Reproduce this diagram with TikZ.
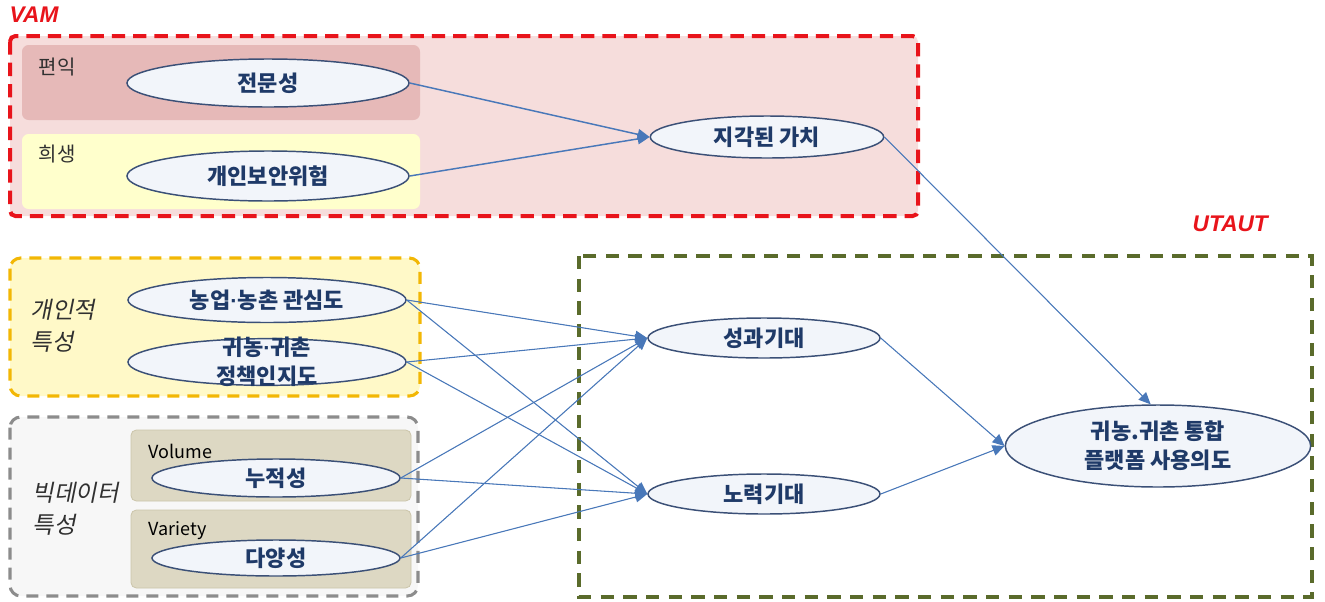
\documentclass[tikz,border=0pt]{standalone}
\usepackage{fontspec}
\setmainfont{Noto Sans CJK KR}[AutoFakeSlant=0.2]
\newfontfamily\ttlfont{Liberation Sans}
\usetikzlibrary{shapes.geometric,arrows.meta}
\definecolor{redD}{HTML}{E8141B}
\definecolor{pinkF}{HTML}{F6DDDC}
\definecolor{benF}{HTML}{E6B9B8}
\definecolor{sacF}{HTML}{FFFFCC}
\definecolor{yelF}{HTML}{FFF9C8}
\definecolor{yelD}{HTML}{F2B705}
\definecolor{grayF}{HTML}{F7F7F7}
\definecolor{grayD}{HTML}{8C8C8C}
\definecolor{tanF}{HTML}{DDD8C3}
\definecolor{tanD}{HTML}{CBC5AA}
\definecolor{oliveD}{HTML}{5A6B2B}
\definecolor{ellF}{HTML}{F2F5FA}
\definecolor{ellB}{HTML}{3B5077}
\definecolor{ellT}{HTML}{1F3A68}
\definecolor{arrC}{HTML}{4978B9}
\definecolor{lblT}{HTML}{303030}
\newcommand\mdot{{\ttlfont\bfseries ·}}
\begin{document}
\begin{tikzpicture}[x=0.75pt,y=-0.75pt,
  ell/.style={ellipse, draw=ellB, fill=ellF, line width=1.1pt, inner sep=0pt},
  etxt/.style={font=\bfseries\fontsize{16.5}{21.5}\selectfont, text=ellT, align=center, inner sep=0pt},
  arr/.style={-{Triangle[length=9pt,width=8pt]}, draw=arrC, fill=arrC, line width=0.8pt},
  arrT/.style={arr, line width=1.1pt},
  grp/.style={font=\itshape\fontsize{17.5}{24}\selectfont, text=lblT, align=left, anchor=west},
  sub/.style={font=\fontsize{15}{17}\selectfont, text=lblT, anchor=west},
  vsub/.style={font=\fontsize{13.5}{16}\selectfont, text=black, anchor=west},
  ttl/.style={font=\ttlfont\bfseries\itshape\fontsize{17}{20}\selectfont, text=redD, anchor=west}]
\useasboundingbox (0,0) rectangle (1325,601);

% VAM group
\node[ttl] (vam) at (5,15) {VAM};
\draw[redD, fill=pinkF, line width=3pt, dash pattern=on 10pt off 6pt, rounded corners=4pt] (10,36) rectangle (918,216);
\fill[benF, rounded corners=5pt] (22,45) rectangle (420,120);
\fill[sacF, rounded corners=5pt] (22,134) rectangle (420,209);
\node[sub] (ben) at (34,67) {편익};
\node[sub] (sac) at (34,154) {희생};

% individual characteristics
\draw[yelD, fill=yelF, line width=2.3pt, dash pattern=on 9pt off 6pt, rounded corners=8pt] (10,258) rectangle (420,396);
\node[grp] (ind) at (26,326) {개인적\\특성};

% big data characteristics
\draw[grayD, fill=grayF, line width=2.3pt, dash pattern=on 9pt off 6pt, rounded corners=8pt] (10,417) rectangle (418,596);
\fill[tanF, draw=tanD, line width=0.6pt, rounded corners=4pt] (131,430) rectangle (411,501);
\fill[tanF, draw=tanD, line width=0.6pt, rounded corners=4pt] (131,510) rectangle (411,588);
\node[grp] (bd) at (28,509) {빅데이터\\특성};
\node[vsub] (vol) at (144,451) {Volume};
\node[vsub] (var) at (144,531) {Variety};

% UTAUT
\node[ttl] (utaut) at (1188,224) {UTAUT};
\draw[oliveD, line width=3pt, dash pattern=on 10pt off 7pt] (579,256) rectangle (1312,597);

% ellipses
\node[ell, minimum width=211.5pt, minimum height=36pt, label={[etxt]center:전문성}] (jm) at (268,83) {};
\node[ell, minimum width=211.5pt, minimum height=37.5pt, label={[etxt]center:개인보안위험}] (gb) at (268,176) {};
\node[ell, minimum width=175pt, minimum height=31.5pt, label={[etxt]center:지각된 가치}] (gv) at (767,137) {};
\node[ell, minimum width=208.5pt, minimum height=33.75pt, label={[etxt]center:농업\mdot 농촌 관심도}] (nc) at (267,300) {};
\node[ell, minimum width=208.5pt, minimum height=35pt, label={[etxt]center:귀농\mdot 귀촌\\정책인지도}] (jc) at (267,362) {};
\node[ell, minimum width=186pt, minimum height=28.5pt, label={[etxt]center:누적성}] (nj) at (276,478) {};
\node[ell, minimum width=186pt, minimum height=27pt, label={[etxt]center:다양성}] (dy) at (276,558) {};
\node[ell, minimum width=174pt, minimum height=30pt, label={[etxt]center:성과기대}] (pe) at (764,338) {};
\node[ell, minimum width=174pt, minimum height=30pt, label={[etxt]center:노력기대}] (ee) at (764,494) {};
\node[ell, minimum width=229pt, minimum height=61.5pt, label={[etxt]center:귀농.귀촌 통합\\플랫폼 사용의도}] (tu) at (1158,446) {};

% connectors
\draw[arrT] (jm.east) -- (gv.west);
\draw[arrT] (gb.east) -- (gv.west);
\draw[arr] (gv.east) -- (tu.100);
\foreach \s in {nc,jc,nj,dy}{
  \draw[arr] (\s.east) -- (pe.west);
  \draw[arr] (\s.east) -- (ee.west);
}
\draw[arr] (pe.east) -- (tu.west);
\draw[arr] (ee.east) -- (tu.west);
\end{tikzpicture}
\end{document}
